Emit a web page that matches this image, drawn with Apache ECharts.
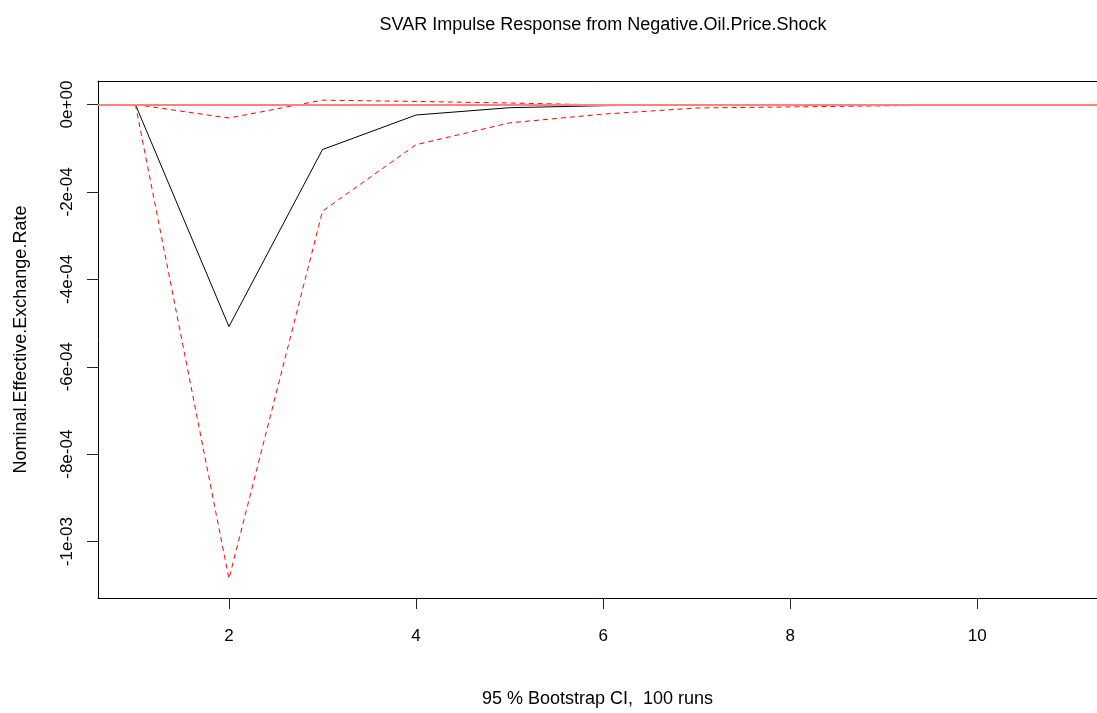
<!DOCTYPE html>
<html>
<head>
<meta charset="utf-8">
<script src="https://cdn.jsdelivr.net/npm/echarts@6/dist/echarts.min.js"></script>
<style>
html,body{margin:0;padding:0;background:#fff;}
#chart{width:1097px;height:713px;}
</style>
</head>
<body>
<div id="chart"></div>
<script>
// ---- data ----
var horizon = [1, 2, 3, 4, 5, 6, 7, 8, 9, 10, 11];
var irf   = [0, -5.08e-4, -1.03e-4, -2.4e-5, -7.3e-6, -2.7e-6, -0.8e-6, -0.3e-6, -0.1e-6, 0, 0];
var upper = [0, -3.1e-5, 1.0e-5, 7e-6, 3.5e-6, -1.0e-6, -0.3e-6, -0.1e-6, 0, 0, 0];
var lower = [0, -1.085e-3, -2.44e-4, -9.2e-5, -4.2e-5, -2.2e-5, -8e-6, -5.5e-6, -3e-6, -1.0e-6, -0.5e-6];
var xTicks = [2, 4, 6, 8, 10];
var yTicks = [0, -2e-4, -4e-4, -6e-4, -8e-4, -1e-3];
var yTickLabels = ['0e+00', '-2e-04', '-4e-04', '-6e-04', '-8e-04', '-1e-03'];
var titleText = 'SVAR Impulse Response from Negative.Oil.Price.Shock';
var xName = '95 % Bootstrap CI,  100 runs';
var yName = 'Nominal.Effective.Exchange.Rate';

function pairs(ys) { return horizon.map(function (x, i) { return [x, ys[i]]; }); }

var FONT = '"Liberation Sans", Arial, sans-serif';
var XMIN = 0.6, XMAX = 11.28;
var chart = echarts.init(document.getElementById('chart'), null, {renderer: 'canvas'});
chart.setOption({
  animation: false,
  backgroundColor: '#ffffff',
  graphic: [{
    type: 'text', x: 603, y: 25,
    style: {text: titleText, fill: '#000', font: '18px ' + FONT, textAlign: 'center', textVerticalAlign: 'middle'}
  }],
  grid: {left: 98, top: 81, right: 0, height: 520, show: false},
  xAxis: [{
    type: 'value', min: XMIN, max: XMAX, position: 'bottom',
    name: xName, nameLocation: 'middle', nameGap: 92,
    nameTextStyle: {color: '#000', fontSize: 18, fontFamily: FONT},
    axisLine: {show: true, onZero: false, lineStyle: {color: '#000', width: 1}},
    splitLine: {show: false},
    axisTick: {show: true, length: 11, customValues: xTicks, lineStyle: {color: '#222', width: 1}},
    axisLabel: {customValues: xTicks, color: '#000', fontSize: 17, fontFamily: FONT, margin: 30,
      formatter: function (v) { return String(Math.round(v)); }}
  }, {
    type: 'value', min: XMIN, max: XMAX, position: 'top',
    axisLine: {show: true, onZero: false, lineStyle: {color: '#000', width: 1}},
    splitLine: {show: false}, axisTick: {show: false}, axisLabel: {show: false}
  }],
  yAxis: {
    type: 'value', min: -1.129e-3, max: 5.38e-5,
    name: yName, nameLocation: 'middle', nameGap: 68, nameRotate: 90,
    nameTextStyle: {color: '#000', fontSize: 18, fontFamily: FONT},
    axisLine: {show: true, onZero: false, lineStyle: {color: '#000', width: 1}},
    splitLine: {show: false},
    axisTick: {show: true, length: 11, customValues: yTicks, lineStyle: {color: '#222', width: 1}},
    axisLabel: {customValues: yTicks, rotate: 90, color: '#000', fontSize: 17, fontFamily: FONT, margin: 22,
      formatter: function (v) {
        var best = 0;
        for (var i = 0; i < yTicks.length; i++) {
          if (Math.abs(yTicks[i] - v) < Math.abs(yTicks[best] - v)) best = i;
        }
        return yTickLabels[best];
      }}
  },
  series: [
    {type: 'line', name: 'irf', data: pairs(irf), symbol: 'none', z: 2,
      lineStyle: {color: '#000', width: 1}},
    {type: 'line', name: 'upper', data: pairs(upper), symbol: 'none', z: 2,
      lineStyle: {color: '#ff0000', width: 1, type: [5, 4]}},
    {type: 'line', name: 'lower', data: pairs(lower), symbol: 'none', z: 2,
      lineStyle: {color: '#ff0000', width: 1, type: [5, 4]}},
    {type: 'line', name: 'zero', data: [], z: 5, symbol: 'none',
      markLine: {silent: true, symbol: 'none', label: {show: false},
        lineStyle: {color: '#ff8080', width: 2, type: 'solid'},
        data: [{yAxis: 0}]}}
  ]
});
</script>
</body>
</html>
